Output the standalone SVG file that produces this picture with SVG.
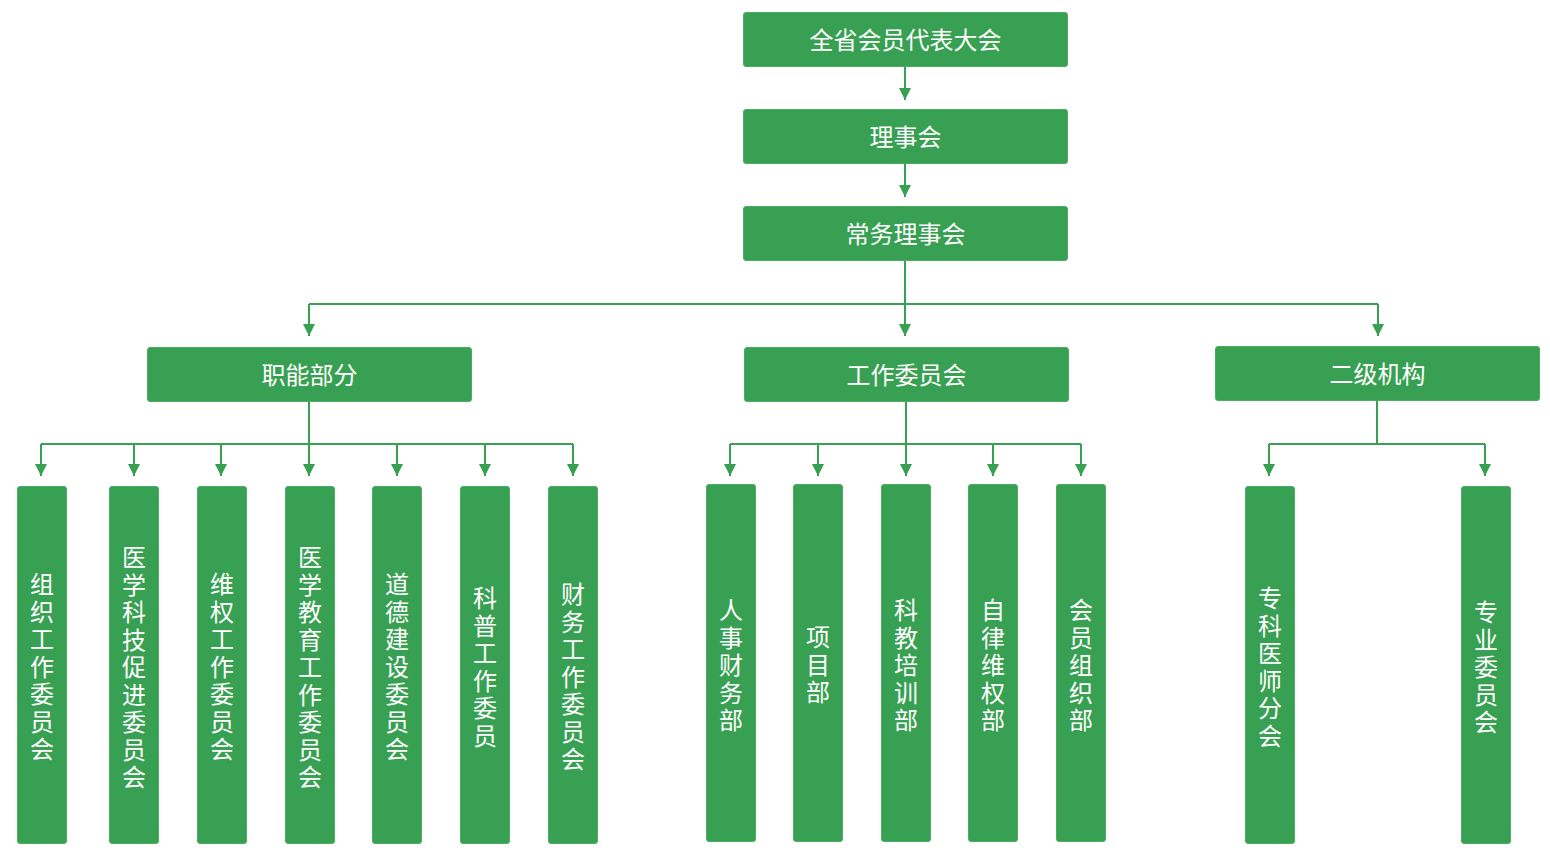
<svg xmlns="http://www.w3.org/2000/svg" width="1550" height="856" viewBox="0 0 1550 856">
<style>
.box{fill:#38a052;stroke:#4aad62;stroke-width:1}
.t{fill:#fff;font-family:"Noto Sans CJK SC","Noto Sans",sans-serif;font-size:24px;text-anchor:middle;dominant-baseline:central}
.v{fill:#fff;font-family:"Noto Sans CJK SC","Noto Sans",sans-serif;font-size:24px;text-anchor:middle;dominant-baseline:central}
.c{fill:none;stroke:#38a052;stroke-width:2}
.h{fill:#38a052}
</style>
<rect width="1550" height="856" fill="#fff"/>
<g id="connectors">
<path class="c" d="M905,67 V100"/>
<path class="h" d="M899,88 L911,88 L905,100 Z"/>
<path class="c" d="M905,163 V197"/>
<path class="h" d="M899,185 L911,185 L905,197 Z"/>
<path class="c" d="M905,260 V336 M309,304 H1378 M309,304 V336 M1378,304 V336"/>
<path class="h" d="M899,324 L911,324 L905,336 Z M303,324 L315,324 L309,336 Z M1372,324 L1384,324 L1378,336 Z"/>
<path class="c" d="M309,401 V476 M41,444 H573 M41,444 V476 M134,444 V476 M221,444 V476 M397,444 V476 M485,444 V476 M573,444 V476"/>
<path class="h" d="M35,464 L47,464 L41,476 Z M128,464 L140,464 L134,476 Z M215,464 L227,464 L221,476 Z M303,464 L315,464 L309,476 Z M391,464 L403,464 L397,476 Z M479,464 L491,464 L485,476 Z M567,464 L579,464 L573,476 Z"/>
<path class="c" d="M906,401 V476 M730,444 H1081 M730,444 V476 M818,444 V476 M993,444 V476 M1081,444 V476"/>
<path class="h" d="M724,464 L736,464 L730,476 Z M812,464 L824,464 L818,476 Z M900,464 L912,464 L906,476 Z M987,464 L999,464 L993,476 Z M1075,464 L1087,464 L1081,476 Z"/>
<path class="c" d="M1377,400 V444 M1269,444 H1485 M1269,444 V476 M1485,444 V476"/>
<path class="h" d="M1263,464 L1275,464 L1269,476 Z M1479,464 L1491,464 L1485,476 Z"/>
</g>
<g id="n1"><rect class="box" x="743.500" y="12.500" width="324" height="54" rx="2.500"/><text class="t" x="905.500" y="38">全省会员代表大会</text></g>
<g id="n2"><rect class="box" x="743.500" y="109.500" width="324" height="54" rx="2.500"/><text class="t" x="905.500" y="135">理事会</text></g>
<g id="n3"><rect class="box" x="743.500" y="206.500" width="324" height="54" rx="2.500"/><text class="t" x="905.500" y="232">常务理事会</text></g>
<g id="n4"><rect class="box" x="147.500" y="347.500" width="324" height="54" rx="2.500"/><text class="t" x="309.500" y="373">职能部分</text></g>
<g id="n5"><rect class="box" x="744.500" y="347.500" width="324" height="54" rx="2.500"/><text class="t" x="906.500" y="373">工作委员会</text></g>
<g id="n6"><rect class="box" x="1215.500" y="346.500" width="324" height="54" rx="2.500"/><text class="t" x="1377.500" y="372">二级机构</text></g>

<g id="a1"><rect class="box" x="17.500" y="486.500" width="49" height="357" rx="2.500"/>
<text class="v"><tspan x="42" y="582">组</tspan><tspan x="42" dy="27.500">织</tspan><tspan x="42" dy="27.500">工</tspan><tspan x="42" dy="27.500">作</tspan><tspan x="42" dy="27.500">委</tspan><tspan x="42" dy="27.500">员</tspan><tspan x="42" dy="27.500">会</tspan></text></g>
<g id="a2"><rect class="box" x="109.500" y="486.500" width="49" height="357" rx="2.500"/>
<text class="v"><tspan x="134" y="555">医</tspan><tspan x="134" dy="27.500">学</tspan><tspan x="134" dy="27.500">科</tspan><tspan x="134" dy="27.500">技</tspan><tspan x="134" dy="27.500">促</tspan><tspan x="134" dy="27.500">进</tspan><tspan x="134" dy="27.500">委</tspan><tspan x="134" dy="27.500">员</tspan><tspan x="134" dy="27.500">会</tspan></text></g>
<g id="a3"><rect class="box" x="197.500" y="486.500" width="49" height="357" rx="2.500"/>
<text class="v"><tspan x="222" y="582">维</tspan><tspan x="222" dy="27.500">权</tspan><tspan x="222" dy="27.500">工</tspan><tspan x="222" dy="27.500">作</tspan><tspan x="222" dy="27.500">委</tspan><tspan x="222" dy="27.500">员</tspan><tspan x="222" dy="27.500">会</tspan></text></g>
<g id="a4"><rect class="box" x="285.500" y="486.500" width="49" height="357" rx="2.500"/>
<text class="v"><tspan x="310" y="555">医</tspan><tspan x="310" dy="27.500">学</tspan><tspan x="310" dy="27.500">教</tspan><tspan x="310" dy="27.500">育</tspan><tspan x="310" dy="27.500">工</tspan><tspan x="310" dy="27.500">作</tspan><tspan x="310" dy="27.500">委</tspan><tspan x="310" dy="27.500">员</tspan><tspan x="310" dy="27.500">会</tspan></text></g>
<g id="a5"><rect class="box" x="372.500" y="486.500" width="49" height="357" rx="2.500"/>
<text class="v"><tspan x="397" y="582">道</tspan><tspan x="397" dy="27.500">德</tspan><tspan x="397" dy="27.500">建</tspan><tspan x="397" dy="27.500">设</tspan><tspan x="397" dy="27.500">委</tspan><tspan x="397" dy="27.500">员</tspan><tspan x="397" dy="27.500">会</tspan></text></g>
<g id="a6"><rect class="box" x="460.500" y="486.500" width="49" height="357" rx="2.500"/>
<text class="v"><tspan x="485" y="596">科</tspan><tspan x="485" dy="27.500">普</tspan><tspan x="485" dy="27.500">工</tspan><tspan x="485" dy="27.500">作</tspan><tspan x="485" dy="27.500">委</tspan><tspan x="485" dy="27.500">员</tspan></text></g>
<g id="a7"><rect class="box" x="548.500" y="486.500" width="49" height="357" rx="2.500"/>
<text class="v"><tspan x="573" y="592">财</tspan><tspan x="573" dy="27.500">务</tspan><tspan x="573" dy="27.500">工</tspan><tspan x="573" dy="27.500">作</tspan><tspan x="573" dy="27.500">委</tspan><tspan x="573" dy="27.500">员</tspan><tspan x="573" dy="27.500">会</tspan></text></g>

<g id="b1"><rect class="box" x="706.500" y="484.500" width="49" height="357" rx="2.500"/>
<text class="v"><tspan x="731" y="608">人</tspan><tspan x="731" dy="27.500">事</tspan><tspan x="731" dy="27.500">财</tspan><tspan x="731" dy="27.500">务</tspan><tspan x="731" dy="27.500">部</tspan></text></g>
<g id="b2"><rect class="box" x="793.500" y="484.500" width="49" height="357" rx="2.500"/>
<text class="v"><tspan x="818" y="635">项</tspan><tspan x="818" dy="27.500">目</tspan><tspan x="818" dy="27.500">部</tspan></text></g>
<g id="b3"><rect class="box" x="881.500" y="484.500" width="49" height="357" rx="2.500"/>
<text class="v"><tspan x="906" y="608">科</tspan><tspan x="906" dy="27.500">教</tspan><tspan x="906" dy="27.500">培</tspan><tspan x="906" dy="27.500">训</tspan><tspan x="906" dy="27.500">部</tspan></text></g>
<g id="b4"><rect class="box" x="968.500" y="484.500" width="49" height="357" rx="2.500"/>
<text class="v"><tspan x="993" y="608">自</tspan><tspan x="993" dy="27.500">律</tspan><tspan x="993" dy="27.500">维</tspan><tspan x="993" dy="27.500">权</tspan><tspan x="993" dy="27.500">部</tspan></text></g>
<g id="b5"><rect class="box" x="1056.500" y="484.500" width="49" height="357" rx="2.500"/>
<text class="v"><tspan x="1081" y="608">会</tspan><tspan x="1081" dy="27.500">员</tspan><tspan x="1081" dy="27.500">组</tspan><tspan x="1081" dy="27.500">织</tspan><tspan x="1081" dy="27.500">部</tspan></text></g>

<g id="c1"><rect class="box" x="1245.500" y="486.500" width="49" height="357" rx="2.500"/>
<text class="v"><tspan x="1270" y="596">专</tspan><tspan x="1270" dy="27.500">科</tspan><tspan x="1270" dy="27.500">医</tspan><tspan x="1270" dy="27.500">师</tspan><tspan x="1270" dy="27.500">分</tspan><tspan x="1270" dy="27.500">会</tspan></text></g>
<g id="c2"><rect class="box" x="1461.500" y="486.500" width="49" height="357" rx="2.500"/>
<text class="v"><tspan x="1486" y="610">专</tspan><tspan x="1486" dy="27.500">业</tspan><tspan x="1486" dy="27.500">委</tspan><tspan x="1486" dy="27.500">员</tspan><tspan x="1486" dy="27.500">会</tspan></text></g>
</svg>
